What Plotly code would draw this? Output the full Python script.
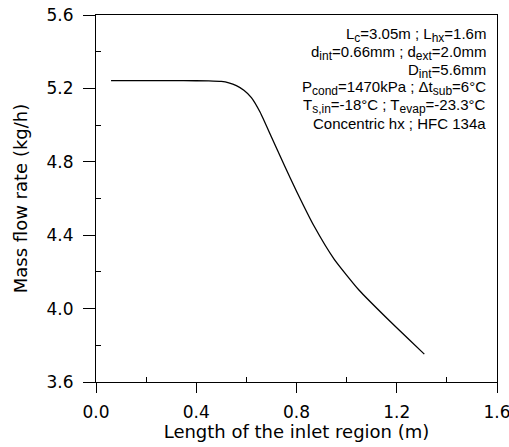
import plotly.graph_objects as go

# Data
length_m = [0.06, 0.20, 0.35, 0.45, 0.50, 0.53, 0.56, 0.59, 0.62, 0.655, 0.70, 0.75, 0.80,
            0.87, 0.95, 1.05, 1.17, 1.25, 1.31]
mass_flow = [5.242, 5.242, 5.242, 5.241, 5.238, 5.230, 5.215, 5.190, 5.150, 5.070, 4.935, 4.785, 4.640,
             4.450, 4.270, 4.100, 3.935, 3.830, 3.752]

x_ticks = [0.0, 0.4, 0.8, 1.2, 1.6]
y_ticks = [3.6, 4.0, 4.4, 4.8, 5.2, 5.6]


def sub(t):
    return f"<sub><span style='font-size:12px'>{t}</span></sub>"


info_lines = [
    f"L{sub('c')}=3.05m ; L{sub('hx')}=1.6m",
    f"d{sub('int')}=0.66mm ; d{sub('ext')}=2.0mm",
    f"D{sub('int')}=5.6mm",
    f"P{sub('cond')}=1470kPa ; Δt{sub('sub')}=6°C",
    f"T{sub('s,in')}=-18°C ; T{sub('evap')}=-23.3°C",
    "Concentric hx ; HFC 134a",
]
info_y = [0.946, 0.896, 0.847, 0.801, 0.752, 0.703]

fig = go.Figure()
fig.add_trace(go.Scatter(x=length_m, y=mass_flow, mode="lines",
                         line=dict(color="black", width=1.3, shape="spline", smoothing=0.5),
                         showlegend=False, hoverinfo="skip"))

for txt, yy in zip(info_lines, info_y):
    fig.add_annotation(text=txt, xref="paper", yref="paper", x=0.978, y=yy,
                       xanchor="right", yanchor="middle", showarrow=False,
                       font=dict(family="Liberation Sans, Arial", size=15, color="black"))

axis_font = dict(family="DejaVu Sans", size=17, color="black")
fig.update_layout(
    width=509, height=447,
    margin=dict(l=96, r=12, t=15, b=65, autoexpand=False),
    paper_bgcolor="white", plot_bgcolor="white",
    font=dict(family="DejaVu Sans", color="black"),
    xaxis=dict(range=[0, 1.6], tickvals=x_ticks, ticktext=[f"{v:.1f}" for v in x_ticks],
               automargin=False, ticklabeloverflow="allow",
               showgrid=False, zeroline=False, showline=True, linecolor="black", linewidth=1.2,
               mirror=True, ticks="outside", ticklen=10, tickwidth=1.2, tickcolor="black",
               ticklabelstandoff=4,
               minor=dict(tickvals=[0.2, 0.6, 1.0, 1.4], ticks="inside", ticklen=5,
                          tickcolor="black", tickwidth=1),
               tickfont=axis_font,
               title=dict(text="Length of the inlet region (m)", font=dict(family="DejaVu Sans", size=18),
                          standoff=4)),
    yaxis=dict(range=[3.6, 5.6], tickvals=y_ticks, ticktext=[f"{v:.1f}" for v in y_ticks],
               automargin=False, ticklabeloverflow="allow",
               showgrid=False, zeroline=False, showline=True, linecolor="black", linewidth=1.2,
               mirror=True, ticks="outside", ticklen=12, tickwidth=1.2, tickcolor="black",
               ticklabelstandoff=6,
               minor=dict(tickvals=[3.8, 4.2, 4.6, 5.0, 5.4], ticks="inside", ticklen=5,
                          tickcolor="black", tickwidth=1),
               tickfont=axis_font,
               title=dict(text="Mass flow rate (kg/h)", font=dict(family="DejaVu Sans", size=18),
                          standoff=14)),
)

fig.write_html("out.html", config={"displayModeBar": False},
               post_script="document.body.style.margin='0px';")
